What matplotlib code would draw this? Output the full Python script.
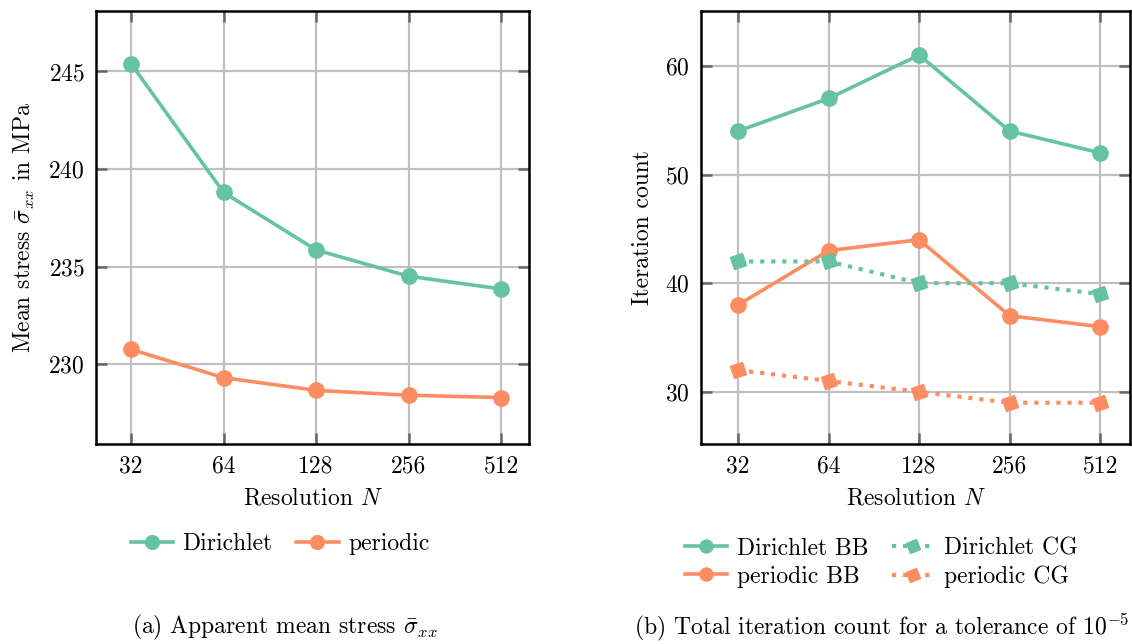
import numpy as np
import matplotlib
matplotlib.use("Agg")
import matplotlib.pyplot as plt
from matplotlib.markers import MarkerStyle
from matplotlib.transforms import Affine2D

plt.rcParams['font.family'] = 'serif'
plt.rcParams['font.serif'] = ['cmr10', 'DejaVu Serif']
plt.rcParams['mathtext.fontset'] = 'cm'
plt.rcParams['axes.formatter.use_mathtext'] = True
plt.rcParams['font.size'] = 17

resolution = [32, 64, 128, 256, 512]

# (a) mean stress
stress_dirichlet = [245.4, 238.8, 235.85, 234.5, 233.85]
stress_periodic = [230.75, 229.3, 228.65, 228.4, 228.28]

# (b) iteration counts
iter_dirichlet_bb = [54, 57, 61, 54, 52]
iter_periodic_bb = [38, 43, 44, 37, 36]
iter_dirichlet_cg = [42, 42, 40, 40, 39]
iter_periodic_cg = [32, 31, 30, 29, 29]

green = '#66c2a5'
orange = '#fc8d62'
cg_marker = MarkerStyle('s', transform=Affine2D().rotate_deg(20))

fig = plt.figure(figsize=(11.32, 6.44), dpi=100)
ax1 = fig.add_axes([96 / 1132, 1 - 444 / 644, 433 / 1132, 433 / 644])
ax2 = fig.add_axes([701 / 1132, 1 - 444 / 644, 429 / 1132, 433 / 644])


def style(ax):
    ax.set_xscale('log', base=2)
    ax.set_xticks(resolution)
    ax.set_xticklabels([str(r) for r in resolution])
    ax.minorticks_off()
    ax.grid(True, color='#c0c0c0', lw=1.6)
    ax.set_axisbelow(True)
    ax.tick_params(direction='in', length=8, width=1.8, color='#666666',
                   top=True, right=True, pad=8)
    for s in ax.spines.values():
        s.set_linewidth(1.8)
    ax.set_xlabel('Resolution $N$', labelpad=7)


ax1.plot(resolution, stress_dirichlet, '-o', color=green, lw=2.6, ms=11, label='Dirichlet')
ax1.plot(resolution, stress_periodic, '-o', color=orange, lw=2.6, ms=11, label='periodic')
style(ax1)
ax1.set_xlim(2 ** (5 - 0.378), 2 ** (9 + 0.3))
ax1.set_ylim(225.9, 248.1)
ax1.set_yticks([230, 235, 240, 245])
ax1.set_ylabel(r'Mean stress $\bar{\sigma}_{xx}$ in MPa', labelpad=8)
ax1.legend(loc='upper center', bbox_to_anchor=(0.425, -0.157), ncol=2, frameon=False,
           handlelength=1.8, columnspacing=1.0, handletextpad=0.4, markerscale=0.9)

ax2.plot(resolution, iter_dirichlet_bb, '-o', color=green, lw=2.6, ms=11, label='Dirichlet BB')
ax2.plot(resolution, iter_periodic_bb, '-o', color=orange, lw=2.6, ms=11, label='periodic BB')
ax2.plot(resolution, iter_dirichlet_cg, ':', marker=cg_marker, color=green, lw=3, ms=9,
         label='Dirichlet CG')
ax2.plot(resolution, iter_periodic_cg, ':', marker=cg_marker, color=orange, lw=3, ms=9,
         label='periodic CG')
style(ax2)
ax2.set_xlim(2 ** (5 - 0.41), 2 ** (9 + 0.33))
ax2.set_ylim(25.2, 65.05)
ax2.set_yticks([30, 40, 50, 60])
ax2.set_ylabel('Iteration count', labelpad=8)
ax2.legend(loc='upper center', bbox_to_anchor=(0.42, -0.167), ncol=2, frameon=False,
           handlelength=1.8, columnspacing=1.0, handletextpad=0.4, labelspacing=0.25,
           markerscale=0.85)

fig.text(285 / 1132, 1 - 627 / 644, r'(a) Apparent mean stress $\bar{\sigma}_{xx}$',
         ha='center', va='center')
fig.text(1129 / 1132, 1 - 627 / 644, r'(b) Total iteration count for a tolerance of $10^{-5}$',
         ha='right', va='center')

fig.savefig('out.png', dpi=100)
